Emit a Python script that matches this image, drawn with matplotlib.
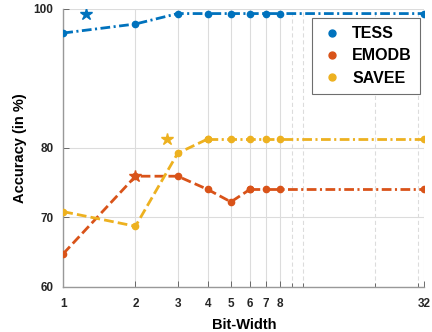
import matplotlib
matplotlib.use("Agg")
import matplotlib.pyplot as plt
from matplotlib.ticker import FixedLocator, NullFormatter

plt.rcParams['font.family'] = ['Liberation Sans', 'DejaVu Sans']
plt.rcParams['lines.scale_dashes'] = False

bits = [1, 2, 3, 4, 5, 6, 7, 8, 32]
tess = [96.5, 97.8, 99.3, 99.3, 99.3, 99.3, 99.3, 99.3, 99.3]
emodb = [64.75, 75.9, 75.9, 74.0, 72.2, 74.0, 74.0, 74.0, 74.0]
savee = [70.8, 68.7, 79.2, 81.25, 81.25, 81.25, 81.25, 81.25, 81.25]

star_x = [1.24, 2.0, 2.72]
star_y = [99.3, 75.9, 81.25]

names = ['TESS', 'EMODB', 'SAVEE']
colors = ['#0072BD', '#D95319', '#EDB120']

xticks = [1, 2, 3, 4, 5, 6, 7, 8, 32]
xminor = [9, 10, 20, 30]
yticks = [60, 70, 80, 100]

dashdot = (0, (7, 2.5, 1.5, 2.5))
dashed = (0, (7, 3))

fig = plt.figure(figsize=(4.32, 3.32), dpi=100)
ax = fig.add_axes([0.1465, 0.1364, 0.8355, 0.8374])
ax.set_xscale('log')

# TESS: dash-dot throughout
ax.plot(bits, tess, color=colors[0], lw=2, ls=dashdot, marker='o', ms=4.5, zorder=3)
# EMODB: dashed up to 6, dash-dot after
ax.plot(bits[:6], emodb[:6], color=colors[1], lw=2, ls=dashed, marker='o', ms=4.5, zorder=3)
ax.plot(bits[5:], emodb[5:], color=colors[1], lw=2, ls=dashdot, marker='o', ms=4.5, zorder=3)
# SAVEE: dashed up to 4, dash-dot after
ax.plot(bits[:4], savee[:4], color=colors[2], lw=2, ls=dashed, marker='o', ms=4.5, zorder=3)
ax.plot(bits[3:], savee[3:], color=colors[2], lw=2, ls=dashdot, marker='o', ms=4.5, zorder=3)

for sx, sy, c in zip(star_x, star_y, colors):
    ax.plot([sx], [sy], marker='*', ms=9, color=c, ls='none', zorder=4)

# legend handles
handles = [ax.plot([], [], marker='o', ms=5, ls='none', color=c)[0] for c in colors]
leg = ax.legend(handles, names, loc='upper right', bbox_to_anchor=(0.988, 0.9655),
                borderaxespad=0,
                prop={'weight': 'bold', 'size': 11.5}, fancybox=False,
                edgecolor='#6e6e6e', framealpha=1, handletextpad=0.5,
                handlelength=1.5, borderpad=0.5, labelspacing=0.45)
leg.get_frame().set_linewidth(0.8)

ax.set_xlim(1, 32)
ax.set_ylim(60, 100)
ax.xaxis.set_major_locator(FixedLocator(xticks))
ax.xaxis.set_minor_locator(FixedLocator(xminor))
ax.xaxis.set_minor_formatter(NullFormatter())
ax.set_xticklabels([str(t) for t in xticks])
ax.set_yticks(yticks)

ax.grid(True, which='major', color='#dcdcdc', lw=0.8, ls='-')
ax.grid(True, which='minor', axis='x', color='#dcdcdc', lw=0.8, ls=(0, (3, 2)))
ax.set_axisbelow(True)

for s in ['top', 'right']:
    ax.spines[s].set_visible(False)
for s in ['left', 'bottom']:
    ax.spines[s].set_color('#999999')
    ax.spines[s].set_linewidth(1.0)

ax.tick_params(which='both', direction='in', color='#555555', length=4, width=0.6,
               labelsize=8.5)
ax.tick_params(axis='x', pad=8)
ax.tick_params(axis='y', pad=7)
ax.tick_params(which='minor', length=3)
for lab in ax.get_xticklabels() + ax.get_yticklabels():
    lab.set_fontweight('bold')
    lab.set_color('#262626')

ax.set_xlabel('Bit-Width', fontsize=10.5, fontweight='bold', labelpad=6)
ax.set_ylabel('Accuracy (in %)', fontsize=10.5, fontweight='bold', labelpad=5)

fig.savefig('out.png', dpi=100)
